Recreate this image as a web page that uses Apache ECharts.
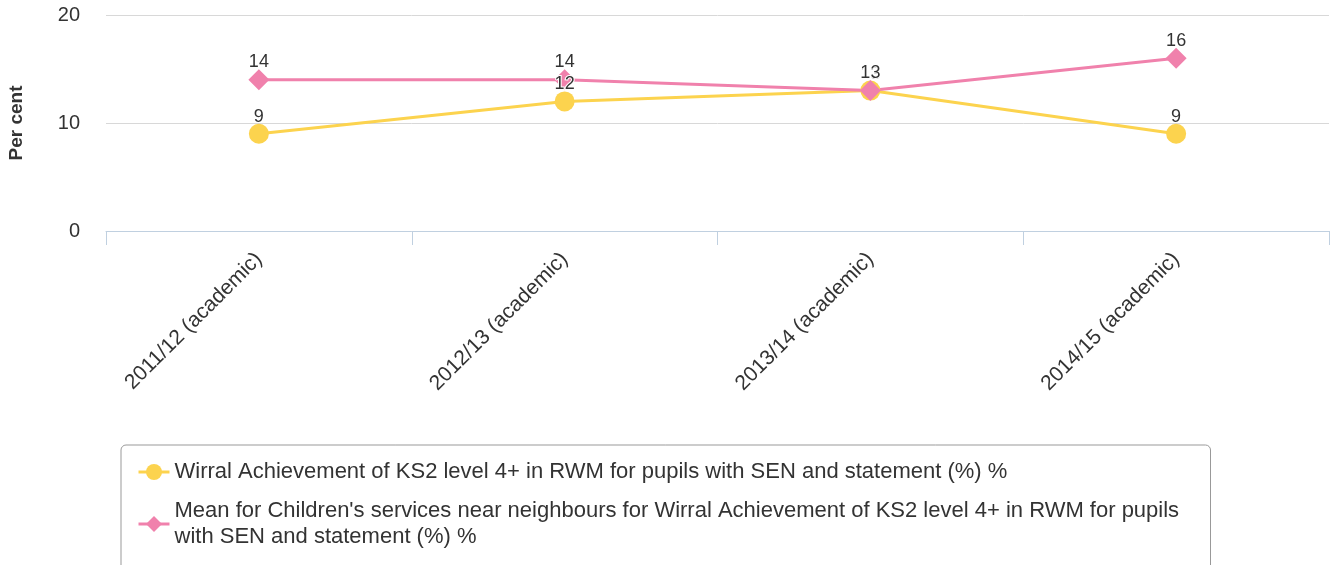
<!DOCTYPE html>
<html>
<head>
    <meta charset="utf-8">
    <title>KS2 level 4+ RWM - SEN and statement</title>
    <script src="https://cdn.jsdelivr.net/npm/echarts@6/dist/echarts.min.js"></script>
    <style>
        html, body { margin: 0; padding: 0; background: #fff; }
        #chart { width: 1332px; height: 565px; }
    </style>
</head>
<body>
<div id="chart"></div>
<script>
    var years = ['2011/12 (academic)', '2012/13 (academic)', '2013/14 (academic)', '2014/15 (academic)'];
    var wirral = [9, 12, 13, 9];
    var neighbours = [14, 14, 13, 16];
    var wirralName = 'Wirral Achievement of KS2 level 4+ in RWM for pupils with SEN and statement (%) %';
    var neighboursName = "Mean for Children's services near neighbours for Wirral Achievement of KS2 level 4+ in RWM for pupils with SEN and statement (%) %";

    var font = 'Arial, "Liberation Sans", sans-serif';
    var chart = echarts.init(document.getElementById('chart'));

    var labelStyle = {
        show: true,
        position: 'top',
        distance: -2,
        fontFamily: font,
        fontSize: 18,
        color: '#333',
        textBorderColor: '#fff',
        textBorderWidth: 2
    };

    chart.setOption({
        animation: false,
        grid: { left: 106, right: 3, top: 15, bottom: 334, outerBoundsMode: 'none' },
        legend: {
            orient: 'vertical',
            left: 121,
            top: 445,
            height: 300,
            padding: [14, 16, 24, 16],
            itemGap: 13,
            itemWidth: 31,
            itemHeight: 20,
            lineStyle: { width: 3 },
            borderColor: '#999',
            borderWidth: 1,
            borderRadius: 5,
            textStyle: {
                fontFamily: font,
                fontSize: 22,
                color: '#333',
                width: 1020,
                overflow: 'break',
                lineHeight: 26
            },
            data: [wirralName, neighboursName]
        },
        xAxis: {
            type: 'category',
            data: years,
            boundaryGap: true,
            axisLine: { lineStyle: { color: '#c0d0e0', width: 1 } },
            axisTick: { show: true, length: 14, lineStyle: { color: '#c0d0e0' } },
            axisLabel: {
                rotate: 45,
                margin: 25,
                fontFamily: font,
                fontSize: 21,
                color: '#333'
            }
        },
        yAxis: {
            type: 'value',
            min: 0,
            max: 20,
            interval: 10,
            name: 'Per cent',
            nameLocation: 'middle',
            nameGap: 80,
            nameTextStyle: { fontFamily: font, fontSize: 19, fontWeight: 'bold', color: '#333' },
            axisLabel: { fontFamily: font, fontSize: 20, color: '#333', margin: 26 },
            splitLine: { lineStyle: { color: '#d8d8d8', width: 1 } }
        },
        series: [
            {
                name: wirralName,
                type: 'line',
                data: wirral,
                symbol: 'circle',
                symbolSize: 20,
                lineStyle: { color: '#fcd34e', width: 3 },
                itemStyle: { color: '#fcd34e' },
                label: labelStyle
            },
            {
                name: neighboursName,
                type: 'line',
                data: neighbours,
                symbol: 'diamond',
                symbolSize: 21,
                lineStyle: { color: '#f081ac', width: 3 },
                itemStyle: { color: '#f081ac' },
                label: labelStyle
            }
        ]
    });
</script>
</body>
</html>
